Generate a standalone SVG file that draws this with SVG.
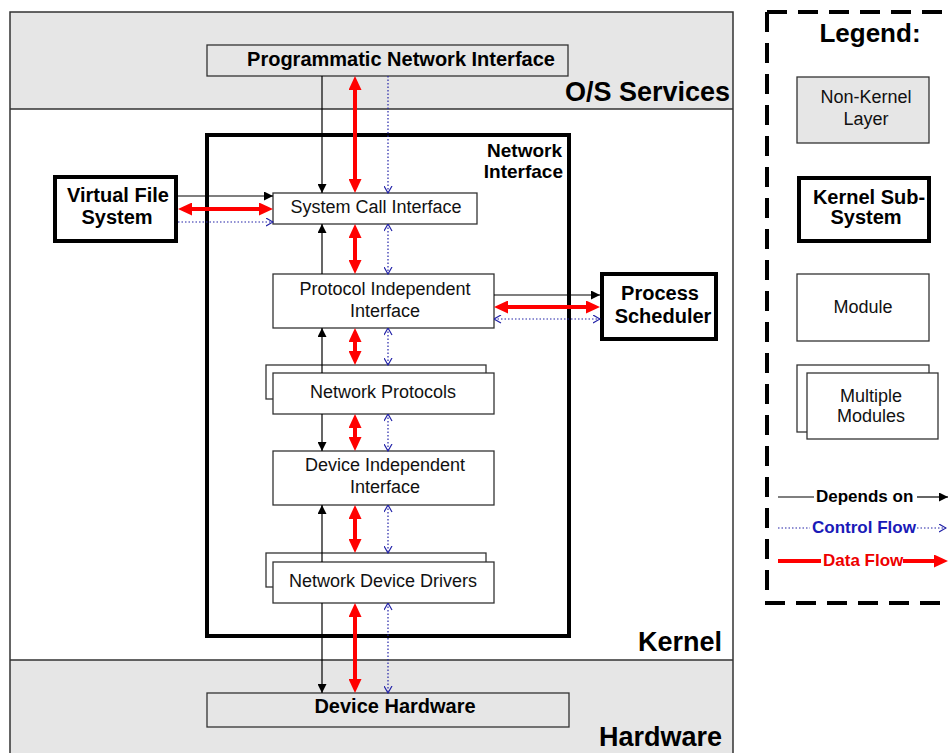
<svg xmlns="http://www.w3.org/2000/svg" width="949" height="753" viewBox="0 0 949 753">
  <style>
    .b { font-family: "Liberation Sans", Arial, sans-serif; font-weight: bold; fill: #000; }
    .r { font-family: "Liberation Sans", Arial, sans-serif; font-weight: normal; fill: #111; }
    .layer { fill: #e6e6e6; stroke: none; }
    .sep { stroke: #333; stroke-width: 1.5; fill: none; }
    .mod { fill: #fff; stroke: #333; stroke-width: 1.3; }
    .modg { fill: #e6e6e6; stroke: #333; stroke-width: 1.3; }
    .sub { fill: #fff; stroke: #000; stroke-width: 4; }
    .dep { stroke: #000; stroke-width: 1.2; fill: none; }
    .ctl { stroke: #2323a8; stroke-width: 1.2; stroke-dasharray: 1.5 2; fill: none; }
    .dat { stroke: #f00; stroke-width: 4; fill: none; }
  </style>
  <defs>
    <marker id="mDep" viewBox="0 0 9 9" refX="9" refY="4.5" markerWidth="9" markerHeight="9" markerUnits="userSpaceOnUse" orient="auto-start-reverse">
      <path d="M0,0 L9,4.5 L0,9 z" fill="#000"/>
    </marker>
    <marker id="mCtl" viewBox="0 0 8 9" refX="7.5" refY="4.5" markerWidth="8" markerHeight="9" markerUnits="userSpaceOnUse" orient="auto-start-reverse">
      <path d="M0.5,0.5 L7.5,4.5 L0.5,8.5" fill="none" stroke="#2323a8" stroke-width="1.2"/>
    </marker>
    <marker id="mDat" viewBox="0 0 14 13" refX="7" refY="6.5" markerWidth="14" markerHeight="13" markerUnits="userSpaceOnUse" orient="auto-start-reverse">
      <path d="M0,0 L14,6.5 L0,13 z" fill="#f00"/>
    </marker>
  </defs>

  <!-- layer bands -->
  <g id="layers">
    <rect class="layer" x="10" y="12" width="723" height="97"/>
    <rect class="layer" x="10" y="660" width="723" height="100"/>
    <path class="sep" d="M10,109 H733 M10,660 H733"/>
    <path class="sep" d="M10,760 V12 H733 V760"/>
    <text class="b" x="730" y="101" font-size="27" text-anchor="end">O/S Services</text>
    <text class="b" x="722" y="651" font-size="27" text-anchor="end">Kernel</text>
    <text class="b" x="722" y="746" font-size="27" text-anchor="end">Hardware</text>
  </g>

  <g id="pni">
    <rect class="modg" x="207" y="45" width="361" height="31"/>
    <text class="b" x="401" y="66" font-size="20" text-anchor="middle">Programmatic Network Interface</text>
  </g>

  <g id="network-interface">
    <rect class="sub" x="207" y="135" width="362" height="501" fill="none"/>
    <text class="b" x="562" y="157" font-size="19" text-anchor="end">Network</text>
    <text class="b" x="563" y="178" font-size="19" text-anchor="end">Interface</text>
  </g>

  <g id="vfs">
    <rect class="sub" x="55" y="177" width="121" height="64"/>
    <text class="b" x="118" y="202" font-size="20" text-anchor="middle">Virtual File</text>
    <text class="b" x="117" y="224" font-size="20" text-anchor="middle">System</text>
  </g>

  <g id="sci">
    <rect class="mod" x="273" y="193" width="204" height="31"/>
    <text class="r" x="376" y="213" font-size="18" text-anchor="middle">System Call Interface</text>
  </g>

  <g id="pii">
    <rect class="mod" x="273" y="274" width="221" height="54"/>
    <text class="r" x="385" y="295" font-size="18" text-anchor="middle">Protocol Independent</text>
    <text class="r" x="385" y="317" font-size="18" text-anchor="middle">Interface</text>
  </g>

  <g id="scheduler">
    <rect class="sub" x="602" y="274" width="114" height="65"/>
    <text class="b" x="660" y="300" font-size="20" text-anchor="middle">Process</text>
    <text class="b" x="663" y="323" font-size="20" text-anchor="middle">Scheduler</text>
  </g>

  <g id="protocols">
    <rect class="mod" x="266" y="365" width="220" height="34"/>
    <rect class="mod" x="273" y="373" width="221" height="41"/>
    <text class="r" x="383" y="398" font-size="18" text-anchor="middle">Network Protocols</text>
  </g>

  <g id="dii">
    <rect class="mod" x="273" y="451" width="221" height="54"/>
    <text class="r" x="385" y="471" font-size="18" text-anchor="middle">Device Independent</text>
    <text class="r" x="385" y="493" font-size="18" text-anchor="middle">Interface</text>
  </g>

  <g id="drivers">
    <rect class="mod" x="266" y="553" width="220" height="34"/>
    <rect class="mod" x="273" y="562" width="221" height="41"/>
    <text class="r" x="383" y="587" font-size="18" text-anchor="middle">Network Device Drivers</text>
  </g>

  <g id="hardware">
    <rect class="modg" x="207" y="693" width="362" height="34"/>
    <text class="b" x="395" y="713" font-size="20" text-anchor="middle">Device Hardware</text>
  </g>

  <!-- connectors -->
  <g id="connectors">
    <!-- depends on -->
    <path class="dep" marker-end="url(#mDep)" d="M322,76 V193"/>
    <path class="dep" marker-end="url(#mDep)" d="M322,274 V224"/>
    <path class="dep" marker-end="url(#mDep)" d="M322,373 V328"/>
    <path class="dep" marker-end="url(#mDep)" d="M322,414 V451"/>
    <path class="dep" marker-end="url(#mDep)" d="M322,562 V505"/>
    <path class="dep" marker-end="url(#mDep)" d="M322,603 V693"/>
    <path class="dep" marker-end="url(#mDep)" d="M178,196 H273"/>
    <path class="dep" marker-end="url(#mDep)" d="M494,295 H600"/>
    <!-- data flow -->
    <path class="dat" marker-start="url(#mDat)" marker-end="url(#mDat)" d="M355,83 V186"/>
    <path class="dat" marker-start="url(#mDat)" marker-end="url(#mDat)" d="M355,231 V267"/>
    <path class="dat" marker-start="url(#mDat)" marker-end="url(#mDat)" d="M355,335 V358"/>
    <path class="dat" marker-start="url(#mDat)" marker-end="url(#mDat)" d="M355,421 V444"/>
    <path class="dat" marker-start="url(#mDat)" marker-end="url(#mDat)" d="M355,512 V546"/>
    <path class="dat" marker-start="url(#mDat)" marker-end="url(#mDat)" d="M355,610 V686"/>
    <path class="dat" marker-start="url(#mDat)" marker-end="url(#mDat)" d="M185,209 H266"/>
    <path class="dat" marker-start="url(#mDat)" marker-end="url(#mDat)" d="M501,307 H593"/>
    <!-- control flow -->
    <path class="ctl" marker-end="url(#mCtl)" d="M388,76 V193"/>
    <path class="ctl" marker-start="url(#mCtl)" marker-end="url(#mCtl)" d="M388,224 V274"/>
    <path class="ctl" marker-start="url(#mCtl)" marker-end="url(#mCtl)" d="M388,328 V365"/>
    <path class="ctl" marker-start="url(#mCtl)" marker-end="url(#mCtl)" d="M388,414 V451"/>
    <path class="ctl" marker-start="url(#mCtl)" marker-end="url(#mCtl)" d="M388,505 V553"/>
    <path class="ctl" marker-start="url(#mCtl)" marker-end="url(#mCtl)" d="M388,603 V693"/>
    <path class="ctl" marker-end="url(#mCtl)" d="M178,222 H273"/>
    <path class="ctl" marker-start="url(#mCtl)" marker-end="url(#mCtl)" d="M494,319 H600"/>
  </g>

  <!-- legend -->
  <g id="legend">
    <path d="M767,12 H960" stroke="#000" stroke-width="4" stroke-dasharray="20 11" fill="none"/>
    <path d="M767,12 V603 H960" stroke="#000" stroke-width="4" stroke-dasharray="20 11" fill="none"/>
    <text class="b" x="870" y="42" font-size="26" text-anchor="middle">Legend:</text>

    <rect class="modg" x="797" y="77" width="132" height="66"/>
    <text class="r" x="866" y="103" font-size="18" text-anchor="middle">Non-Kernel</text>
    <text class="r" x="866" y="125" font-size="18" text-anchor="middle">Layer</text>

    <rect class="sub" x="799" y="178" width="130" height="63"/>
    <text class="b" x="869" y="204" font-size="20" text-anchor="middle">Kernel Sub-</text>
    <text class="b" x="866" y="224" font-size="20" text-anchor="middle">System</text>

    <rect class="mod" x="797" y="274" width="132" height="67"/>
    <text class="r" x="863" y="313" font-size="18" text-anchor="middle">Module</text>

    <rect class="mod" x="797" y="365" width="132" height="67"/>
    <rect class="mod" x="807" y="373" width="131" height="66"/>
    <text class="r" x="871" y="402" font-size="18" text-anchor="middle">Multiple</text>
    <text class="r" x="871" y="422" font-size="18" text-anchor="middle">Modules</text>

    <path class="dep" d="M778,497 H814"/>
    <path class="dep" marker-end="url(#mDep)" d="M917,497 H948"/>
    <text class="b" x="816" y="502" font-size="17">Depends on</text>

    <path class="ctl" d="M778,528 H810"/>
    <path class="ctl" marker-end="url(#mCtl)" d="M917,528 H946"/>
    <text class="b" x="812" y="533" font-size="17" style="fill:#1a1ab8">Control Flow</text>

    <path class="dat" d="M778,561 H821"/>
    <path class="dat" marker-end="url(#mDat)" d="M903,561 H941"/>
    <text class="b" x="823" y="566" font-size="17" style="fill:#e00">Data Flow</text>
  </g>
</svg>
